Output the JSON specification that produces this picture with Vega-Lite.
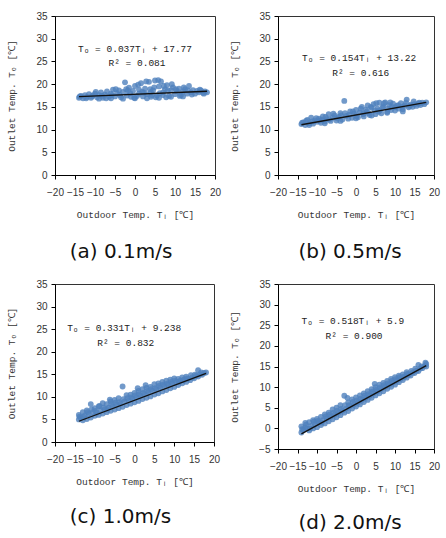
{
  "$schema": "https://vega.github.io/schema/vega-lite/v6.json",
  "padding": {"left": 6, "top": 10, "right": 5, "bottom": 2},
  "background": "white",
  "columns": 2,
  "spacing": {"column": 7, "row": 16},
  "datasets": {
    "pts": [
      {"p":"a","x":-14,"y":17.0},{"p":"a","x":-13.5,"y":17.4},{"p":"a","x":-13,"y":16.9},{"p":"a","x":-12.5,"y":17.6},{"p":"a","x":-12,"y":17.2},{"p":"a","x":-11.5,"y":17.8},{"p":"a","x":-11,"y":17.0},{"p":"a","x":-10.5,"y":17.5},{"p":"a","x":-10,"y":17.9},{"p":"a","x":-9.5,"y":17.1},{"p":"a","x":-9,"y":17.6},{"p":"a","x":-8.5,"y":18.2},{"p":"a","x":-8,"y":17.0},{"p":"a","x":-7.5,"y":17.7},{"p":"a","x":-7,"y":18.4},{"p":"a","x":-6.5,"y":17.2},{"p":"a","x":-6,"y":17.9},{"p":"a","x":-5.5,"y":18.8},{"p":"a","x":-5,"y":17.3},{"p":"a","x":-4.5,"y":18.0},{"p":"a","x":-4,"y":18.6},{"p":"a","x":-3.5,"y":17.1},{"p":"a","x":-3,"y":18.3},{"p":"a","x":-2.5,"y":20.4},{"p":"a","x":-2,"y":17.5},{"p":"a","x":-1.5,"y":19.2},{"p":"a","x":-1,"y":17.2},{"p":"a","x":-0.5,"y":18.5},{"p":"a","x":0,"y":19.6},{"p":"a","x":0.5,"y":17.4},{"p":"a","x":1,"y":18.8},{"p":"a","x":1.5,"y":20.2},{"p":"a","x":2,"y":17.3},{"p":"a","x":2.5,"y":19.0},{"p":"a","x":3,"y":17.8},{"p":"a","x":3.5,"y":20.5},{"p":"a","x":4,"y":17.2},{"p":"a","x":4.5,"y":18.6},{"p":"a","x":5,"y":20.8},{"p":"a","x":5.5,"y":17.5},{"p":"a","x":6,"y":19.5},{"p":"a","x":6.5,"y":20.6},{"p":"a","x":7,"y":17.6},{"p":"a","x":7.5,"y":18.9},{"p":"a","x":8,"y":19.8},{"p":"a","x":8.5,"y":17.4},{"p":"a","x":9,"y":18.7},{"p":"a","x":9.5,"y":19.3},{"p":"a","x":10,"y":17.8},{"p":"a","x":10.5,"y":18.5},{"p":"a","x":11,"y":19.0},{"p":"a","x":11.5,"y":17.6},{"p":"a","x":12,"y":18.4},{"p":"a","x":12.5,"y":18.9},{"p":"a","x":13,"y":17.9},{"p":"a","x":13.5,"y":19.6},{"p":"a","x":14,"y":18.2},{"p":"a","x":14.5,"y":18.7},{"p":"a","x":15,"y":17.9},{"p":"a","x":15.5,"y":18.5},{"p":"a","x":16,"y":18.2},{"p":"a","x":16.5,"y":18.6},{"p":"a","x":17,"y":18.1},{"p":"a","x":17.5,"y":18.4},{"p":"a","x":18,"y":18.2},{"p":"a","x":-3,"y":16.8},{"p":"a","x":0,"y":16.9},{"p":"a","x":3,"y":16.9},{"p":"a","x":6,"y":17.0},{"p":"a","x":9,"y":17.2},{"p":"a","x":12,"y":17.3},{"p":"a","x":1,"y":17.9},{"p":"a","x":4,"y":18.3},{"p":"a","x":7,"y":18.2},{"p":"a","x":-6,"y":16.9},{"p":"a","x":-9,"y":16.8},
      {"p":"a","x":-13.8,"y":17.3},{"p":"a","x":-12.2,"y":16.9},{"p":"a","x":-10.8,"y":17.3},{"p":"a","x":-9.8,"y":18.3},{"p":"a","x":-8.2,"y":17.4},{"p":"a","x":-7.2,"y":16.9},{"p":"a","x":-5.8,"y":17.6},{"p":"a","x":-4.8,"y":18.9},{"p":"a","x":-3.8,"y":17.6},{"p":"a","x":-2.2,"y":18.9},{"p":"a","x":-1.2,"y":18.0},{"p":"a","x":-0.2,"y":17.0},{"p":"a","x":0.8,"y":19.9},{"p":"a","x":1.8,"y":18.3},{"p":"a","x":2.8,"y":20.6},{"p":"a","x":3.8,"y":18.9},{"p":"a","x":4.8,"y":19.3},{"p":"a","x":5.2,"y":17.1},{"p":"a","x":5.8,"y":20.9},{"p":"a","x":6.2,"y":18.0},{"p":"a","x":7.2,"y":19.6},{"p":"a","x":7.8,"y":17.1},{"p":"a","x":8.2,"y":18.6},{"p":"a","x":9.2,"y":20.0},{"p":"a","x":10.2,"y":18.9},{"p":"a","x":11.2,"y":17.4},{"p":"a","x":12.2,"y":19.3},{"p":"a","x":13.2,"y":18.6},{"p":"a","x":14.2,"y":17.7},{"p":"a","x":16.2,"y":18.8},{"p":"a","x":17.2,"y":17.9},{"p":"a","x":2.2,"y":18.1},{"p":"a","x":4.2,"y":17.6},{"p":"a","x":-1.8,"y":18.6},

      {"p":"b","x":-14,"y":11.2},{"p":"b","x":-13.5,"y":11.6},{"p":"b","x":-13,"y":11.0},{"p":"b","x":-12.5,"y":12.1},{"p":"b","x":-12,"y":11.4},{"p":"b","x":-11.5,"y":12.6},{"p":"b","x":-11,"y":11.3},{"p":"b","x":-10.5,"y":12.0},{"p":"b","x":-10,"y":11.7},{"p":"b","x":-9.5,"y":12.4},{"p":"b","x":-9,"y":11.5},{"p":"b","x":-8.5,"y":12.9},{"p":"b","x":-8,"y":11.8},{"p":"b","x":-7.5,"y":12.3},{"p":"b","x":-7,"y":13.4},{"p":"b","x":-6.5,"y":11.9},{"p":"b","x":-6,"y":12.6},{"p":"b","x":-5.5,"y":13.1},{"p":"b","x":-5,"y":12.0},{"p":"b","x":-4.5,"y":12.8},{"p":"b","x":-4,"y":13.6},{"p":"b","x":-3.5,"y":12.2},{"p":"b","x":-3,"y":16.3},{"p":"b","x":-2.5,"y":13.0},{"p":"b","x":-2,"y":12.4},{"p":"b","x":-1.5,"y":14.0},{"p":"b","x":-1,"y":12.6},{"p":"b","x":-0.5,"y":13.5},{"p":"b","x":0,"y":14.3},{"p":"b","x":0.5,"y":12.7},{"p":"b","x":1,"y":13.8},{"p":"b","x":1.5,"y":15.0},{"p":"b","x":2,"y":12.9},{"p":"b","x":2.5,"y":14.4},{"p":"b","x":3,"y":15.3},{"p":"b","x":3.5,"y":13.2},{"p":"b","x":4,"y":14.8},{"p":"b","x":4.5,"y":15.6},{"p":"b","x":5,"y":13.4},{"p":"b","x":5.5,"y":14.6},{"p":"b","x":6,"y":15.9},{"p":"b","x":6.5,"y":13.6},{"p":"b","x":7,"y":15.1},{"p":"b","x":7.5,"y":16.0},{"p":"b","x":8,"y":13.9},{"p":"b","x":8.5,"y":15.4},{"p":"b","x":9,"y":14.3},{"p":"b","x":9.5,"y":15.7},{"p":"b","x":10,"y":14.2},{"p":"b","x":10.5,"y":15.2},{"p":"b","x":11,"y":14.6},{"p":"b","x":11.5,"y":15.8},{"p":"b","x":12,"y":14.5},{"p":"b","x":12.5,"y":15.3},{"p":"b","x":13,"y":16.6},{"p":"b","x":13.5,"y":14.9},{"p":"b","x":14,"y":15.5},{"p":"b","x":14.5,"y":15.0},{"p":"b","x":15,"y":15.6},{"p":"b","x":15.5,"y":15.2},{"p":"b","x":16,"y":15.7},{"p":"b","x":16.5,"y":15.4},{"p":"b","x":17,"y":15.9},{"p":"b","x":17.5,"y":15.6},{"p":"b","x":18,"y":16.0},{"p":"b","x":-12,"y":11.0},{"p":"b","x":-8,"y":11.4},{"p":"b","x":-4,"y":11.9},{"p":"b","x":0,"y":12.5},{"p":"b","x":4,"y":13.1},{"p":"b","x":8,"y":13.7},{"p":"b","x":12,"y":14.0},{"p":"b","x":2,"y":13.6},{"p":"b","x":6,"y":14.2},{"p":"b","x":10,"y":14.9},
      {"p":"b","x":-13.8,"y":11.5},{"p":"b","x":-12.8,"y":11.9},{"p":"b","x":-11.2,"y":11.8},{"p":"b","x":-10.2,"y":12.5},{"p":"b","x":-9.2,"y":12.0},{"p":"b","x":-8.8,"y":12.2},{"p":"b","x":-7.8,"y":12.8},{"p":"b","x":-6.8,"y":12.2},{"p":"b","x":-5.8,"y":13.5},{"p":"b","x":-4.8,"y":12.5},{"p":"b","x":-3.8,"y":13.1},{"p":"b","x":-2.8,"y":13.6},{"p":"b","x":-1.8,"y":13.2},{"p":"b","x":-0.8,"y":14.0},{"p":"b","x":0.2,"y":13.0},{"p":"b","x":1.2,"y":14.6},{"p":"b","x":1.8,"y":13.4},{"p":"b","x":2.8,"y":14.0},{"p":"b","x":3.2,"y":13.6},{"p":"b","x":3.8,"y":15.0},{"p":"b","x":4.8,"y":14.2},{"p":"b","x":5.2,"y":15.8},{"p":"b","x":5.8,"y":13.9},{"p":"b","x":6.8,"y":14.8},{"p":"b","x":7.2,"y":15.8},{"p":"b","x":8.2,"y":14.6},{"p":"b","x":8.8,"y":16.0},{"p":"b","x":9.2,"y":15.0},{"p":"b","x":10.8,"y":15.4},{"p":"b","x":11.8,"y":15.0},{"p":"b","x":12.8,"y":15.9},{"p":"b","x":13.8,"y":15.2},{"p":"b","x":14.8,"y":16.2},{"p":"b","x":16.2,"y":15.9},

      {"p":"c","x":-14,"y":5.0},{"p":"c","x":-14,"y":6.0},{"p":"c","x":-13.5,"y":5.4},{"p":"c","x":-13,"y":4.8},{"p":"c","x":-13,"y":6.6},{"p":"c","x":-12.5,"y":5.9},{"p":"c","x":-12,"y":5.1},{"p":"c","x":-12,"y":7.0},{"p":"c","x":-11.5,"y":6.2},{"p":"c","x":-11,"y":5.4},{"p":"c","x":-11,"y":8.4},{"p":"c","x":-10.5,"y":6.6},{"p":"c","x":-10,"y":5.8},{"p":"c","x":-10,"y":7.5},{"p":"c","x":-9.5,"y":6.5},{"p":"c","x":-9,"y":6.0},{"p":"c","x":-9,"y":7.9},{"p":"c","x":-8.5,"y":7.0},{"p":"c","x":-8,"y":6.3},{"p":"c","x":-8,"y":8.6},{"p":"c","x":-7.5,"y":7.3},{"p":"c","x":-7,"y":6.6},{"p":"c","x":-7,"y":8.4},{"p":"c","x":-6.5,"y":7.6},{"p":"c","x":-6,"y":6.9},{"p":"c","x":-6,"y":9.0},{"p":"c","x":-5.5,"y":7.9},{"p":"c","x":-5,"y":7.2},{"p":"c","x":-5,"y":9.3},{"p":"c","x":-4.5,"y":8.2},{"p":"c","x":-4,"y":7.5},{"p":"c","x":-4,"y":9.7},{"p":"c","x":-3.5,"y":8.5},{"p":"c","x":-3,"y":7.8},{"p":"c","x":-3,"y":12.3},{"p":"c","x":-2.5,"y":9.0},{"p":"c","x":-2,"y":8.2},{"p":"c","x":-2,"y":10.4},{"p":"c","x":-1.5,"y":9.2},{"p":"c","x":-1,"y":8.5},{"p":"c","x":-1,"y":10.5},{"p":"c","x":-0.5,"y":9.6},{"p":"c","x":0,"y":8.8},{"p":"c","x":0,"y":10.9},{"p":"c","x":0.5,"y":9.9},{"p":"c","x":1,"y":9.1},{"p":"c","x":1,"y":11.3},{"p":"c","x":1.5,"y":10.2},{"p":"c","x":2,"y":9.5},{"p":"c","x":2,"y":11.7},{"p":"c","x":2.5,"y":10.6},{"p":"c","x":3,"y":9.8},{"p":"c","x":3,"y":12.0},{"p":"c","x":3.5,"y":11.0},{"p":"c","x":4,"y":10.1},{"p":"c","x":4,"y":12.2},{"p":"c","x":4.5,"y":11.3},{"p":"c","x":5,"y":10.5},{"p":"c","x":5,"y":12.8},{"p":"c","x":5.5,"y":11.7},{"p":"c","x":6,"y":10.8},{"p":"c","x":6,"y":13.0},{"p":"c","x":6.5,"y":12.0},{"p":"c","x":7,"y":11.2},{"p":"c","x":7,"y":13.3},{"p":"c","x":7.5,"y":12.4},{"p":"c","x":8,"y":11.5},{"p":"c","x":8,"y":13.6},{"p":"c","x":8.5,"y":12.7},{"p":"c","x":9,"y":11.9},{"p":"c","x":9,"y":13.8},{"p":"c","x":9.5,"y":13.0},{"p":"c","x":10,"y":12.2},{"p":"c","x":10,"y":14.1},{"p":"c","x":10.5,"y":13.3},{"p":"c","x":11,"y":12.6},{"p":"c","x":11,"y":14.0},{"p":"c","x":11.5,"y":13.6},{"p":"c","x":12,"y":13.0},{"p":"c","x":12,"y":14.3},{"p":"c","x":12.5,"y":13.8},{"p":"c","x":13,"y":13.3},{"p":"c","x":13,"y":14.5},{"p":"c","x":13.5,"y":14.0},{"p":"c","x":14,"y":13.7},{"p":"c","x":14.5,"y":14.3},{"p":"c","x":15,"y":14.1},{"p":"c","x":15.5,"y":14.7},{"p":"c","x":16,"y":14.5},{"p":"c","x":16,"y":15.9},{"p":"c","x":16.5,"y":15.0},{"p":"c","x":17,"y":14.9},{"p":"c","x":17.5,"y":15.3},{"p":"c","x":18,"y":15.4},
      {"p":"c","x":-13.8,"y":5.6},{"p":"c","x":-12.8,"y":5.5},{"p":"c","x":-11.8,"y":6.6},{"p":"c","x":-10.8,"y":7.2},{"p":"c","x":-9.8,"y":6.9},{"p":"c","x":-8.8,"y":8.0},{"p":"c","x":-7.8,"y":7.6},{"p":"c","x":-6.8,"y":7.2},{"p":"c","x":-5.8,"y":8.3},{"p":"c","x":-4.8,"y":8.7},{"p":"c","x":-3.8,"y":8.8},{"p":"c","x":-2.8,"y":9.5},{"p":"c","x":-1.8,"y":9.7},{"p":"c","x":-0.8,"y":9.9},{"p":"c","x":0.2,"y":10.3},{"p":"c","x":1.2,"y":10.6},{"p":"c","x":2.2,"y":10.9},{"p":"c","x":3.2,"y":11.3},{"p":"c","x":4.2,"y":11.7},{"p":"c","x":5.2,"y":11.9},{"p":"c","x":6.2,"y":12.4},{"p":"c","x":7.2,"y":12.7},{"p":"c","x":8.2,"y":12.9},{"p":"c","x":9.2,"y":13.3},{"p":"c","x":10.2,"y":13.6},{"p":"c","x":11.2,"y":13.3},{"p":"c","x":12.2,"y":13.7},{"p":"c","x":13.2,"y":14.1},{"p":"c","x":14.2,"y":14.8},{"p":"c","x":15.2,"y":14.9},{"p":"c","x":16.8,"y":15.4},{"p":"c","x":2.8,"y":12.6},{"p":"c","x":-6.2,"y":9.4},{"p":"c","x":0.8,"y":11.9},

      {"p":"d","x":-14,"y":-1.0},{"p":"d","x":-14,"y":0.5},{"p":"d","x":-13.5,"y":-0.4},{"p":"d","x":-13,"y":0.2},{"p":"d","x":-13,"y":1.3},{"p":"d","x":-12.5,"y":0.0},{"p":"d","x":-12,"y":-0.5},{"p":"d","x":-12,"y":1.5},{"p":"d","x":-11.5,"y":0.6},{"p":"d","x":-11,"y":0.0},{"p":"d","x":-11,"y":2.0},{"p":"d","x":-10.5,"y":1.0},{"p":"d","x":-10,"y":0.3},{"p":"d","x":-10,"y":2.3},{"p":"d","x":-9.5,"y":1.5},{"p":"d","x":-9,"y":0.8},{"p":"d","x":-9,"y":2.8},{"p":"d","x":-8.5,"y":2.0},{"p":"d","x":-8,"y":1.2},{"p":"d","x":-8,"y":3.4},{"p":"d","x":-7.5,"y":2.4},{"p":"d","x":-7,"y":1.7},{"p":"d","x":-7,"y":3.8},{"p":"d","x":-6.5,"y":2.8},{"p":"d","x":-6,"y":2.2},{"p":"d","x":-6,"y":4.6},{"p":"d","x":-5.5,"y":3.3},{"p":"d","x":-5,"y":2.7},{"p":"d","x":-5,"y":5.0},{"p":"d","x":-4.5,"y":3.8},{"p":"d","x":-4,"y":3.2},{"p":"d","x":-4,"y":5.6},{"p":"d","x":-3.5,"y":4.3},{"p":"d","x":-3,"y":3.8},{"p":"d","x":-3,"y":7.9},{"p":"d","x":-2.5,"y":4.8},{"p":"d","x":-2,"y":4.2},{"p":"d","x":-2,"y":6.3},{"p":"d","x":-1.5,"y":5.4},{"p":"d","x":-1,"y":4.8},{"p":"d","x":-1,"y":7.0},{"p":"d","x":-0.5,"y":5.8},{"p":"d","x":0,"y":5.3},{"p":"d","x":0,"y":7.5},{"p":"d","x":0.5,"y":6.3},{"p":"d","x":1,"y":5.8},{"p":"d","x":1,"y":8.0},{"p":"d","x":1.5,"y":6.9},{"p":"d","x":2,"y":6.4},{"p":"d","x":2,"y":8.5},{"p":"d","x":2.5,"y":7.4},{"p":"d","x":3,"y":6.9},{"p":"d","x":3,"y":9.0},{"p":"d","x":3.5,"y":7.9},{"p":"d","x":4,"y":7.4},{"p":"d","x":4,"y":9.5},{"p":"d","x":4.5,"y":8.5},{"p":"d","x":5,"y":8.0},{"p":"d","x":5,"y":10.0},{"p":"d","x":5.5,"y":9.0},{"p":"d","x":6,"y":8.5},{"p":"d","x":6,"y":10.6},{"p":"d","x":6.5,"y":9.6},{"p":"d","x":7,"y":9.0},{"p":"d","x":7,"y":11.0},{"p":"d","x":7.5,"y":10.1},{"p":"d","x":8,"y":9.6},{"p":"d","x":8,"y":11.5},{"p":"d","x":8.5,"y":10.6},{"p":"d","x":9,"y":10.1},{"p":"d","x":9,"y":12.0},{"p":"d","x":9.5,"y":11.1},{"p":"d","x":10,"y":10.6},{"p":"d","x":10,"y":12.4},{"p":"d","x":10.5,"y":11.6},{"p":"d","x":11,"y":11.2},{"p":"d","x":11,"y":12.8},{"p":"d","x":11.5,"y":12.1},{"p":"d","x":12,"y":11.7},{"p":"d","x":12,"y":13.1},{"p":"d","x":12.5,"y":12.6},{"p":"d","x":13,"y":12.3},{"p":"d","x":13,"y":13.6},{"p":"d","x":13.5,"y":13.0},{"p":"d","x":14,"y":12.8},{"p":"d","x":14.5,"y":13.5},{"p":"d","x":15,"y":13.4},{"p":"d","x":15.5,"y":14.0},{"p":"d","x":16,"y":13.9},{"p":"d","x":16,"y":15.4},{"p":"d","x":16.5,"y":14.5},{"p":"d","x":17,"y":14.6},{"p":"d","x":17.5,"y":15.1},{"p":"d","x":18,"y":15.6},{"p":"d","x":18,"y":15.0},
      {"p":"d","x":-13.8,"y":-0.2},{"p":"d","x":-12.8,"y":0.9},{"p":"d","x":-11.8,"y":0.0},{"p":"d","x":-10.8,"y":1.6},{"p":"d","x":-9.8,"y":1.8},{"p":"d","x":-8.8,"y":1.4},{"p":"d","x":-7.8,"y":2.9},{"p":"d","x":-6.8,"y":3.3},{"p":"d","x":-5.8,"y":3.8},{"p":"d","x":-4.8,"y":4.3},{"p":"d","x":-3.8,"y":4.7},{"p":"d","x":-2.8,"y":5.6},{"p":"d","x":-1.8,"y":5.6},{"p":"d","x":-0.8,"y":6.4},{"p":"d","x":0.2,"y":6.8},{"p":"d","x":1.2,"y":7.2},{"p":"d","x":2.2,"y":7.9},{"p":"d","x":3.2,"y":8.3},{"p":"d","x":4.2,"y":8.9},{"p":"d","x":5.2,"y":9.4},{"p":"d","x":6.2,"y":9.9},{"p":"d","x":7.2,"y":10.5},{"p":"d","x":8.2,"y":10.9},{"p":"d","x":9.2,"y":11.5},{"p":"d","x":10.2,"y":11.9},{"p":"d","x":11.2,"y":12.4},{"p":"d","x":12.2,"y":12.5},{"p":"d","x":13.2,"y":13.2},{"p":"d","x":14.2,"y":13.9},{"p":"d","x":15.2,"y":14.5},{"p":"d","x":16.8,"y":15.0},{"p":"d","x":17.8,"y":15.9},{"p":"d","x":-2.2,"y":7.4},{"p":"d","x":4.8,"y":10.8}
    ],
    "fit": [
      {"p":"a","x":-14,"y":17.25},{"p":"a","x":18,"y":18.44},
      {"p":"b","x":-14,"y":11.06},{"p":"b","x":18,"y":15.99},
      {"p":"c","x":-14,"y":4.6},{"p":"c","x":18,"y":15.2},
      {"p":"d","x":-14,"y":-1.35},{"p":"d","x":18,"y":15.22}
    ],
    "eq": [
      {"p":"a","x":0,"y":27.7,"t":"Tₒ = 0.037Tᵢ + 17.77"},{"p":"a","x":0.5,"y":24.7,"t":"R²  = 0.081"},
      {"p":"b","x":0.8,"y":25.8,"t":"Tₒ = 0.154Tᵢ + 13.22"},{"p":"b","x":1.2,"y":22.5,"t":"R²  = 0.616"},
      {"p":"c","x":-2.6,"y":25.3,"t":"Tₒ = 0.331Tᵢ + 9.238"},{"p":"c","x":-2.2,"y":21.9,"t":"R²  = 0.832"},
      {"p":"d","x":-0.8,"y":26.0,"t":"Tₒ = 0.518Tᵢ + 5.9"},{"p":"d","x":-0.5,"y":22.4,"t":"R²  = 0.900"}
    ]
  },
  "concat": [
    {
      "width": 160, "height": 159,
      "title": {"text": "(a) 0.1m/s", "dx": -14},
      "encoding": {
        "x": {"field": "x", "type": "quantitative", "scale": {"domain": [-20, 20], "nice": false}, "axis": {"title": "Outdoor Temp. Tᵢ [℃]", "values": [-20,-15,-10,-5,0,5,10,15,20]}},
        "y": {"field": "y", "type": "quantitative", "scale": {"domain": [0, 35], "nice": false}, "axis": {"title": "Outlet Temp. Tₒ [℃]", "values": [0,5,10,15,20,25,30,35]}}
      },
      "layer": [
        {"data": {"name": "pts"}, "transform": [{"filter": "datum.p == 'a'"}],
         "mark": {"type": "circle", "size": 34, "color": "#4f81bd", "opacity": 0.8}},
        {"data": {"name": "fit"}, "transform": [{"filter": "datum.p == 'a'"}],
         "mark": {"type": "line", "color": "#111", "strokeWidth": 1.3}},
        {"data": {"name": "eq"}, "transform": [{"filter": "datum.p == 'a'"}],
         "mark": {"type": "text", "font": "Liberation Mono", "fontSize": 9.5, "color": "#222"},
         "encoding": {"text": {"field": "t"}}}
      ]
    },
    {
      "width": 156, "height": 159,
      "title": {"text": "(b) 0.5m/s", "dx": -6},
      "encoding": {
        "x": {"field": "x", "type": "quantitative", "scale": {"domain": [-20, 20], "nice": false}, "axis": {"title": "Outdoor Temp. Tᵢ [℃]", "values": [-20,-15,-10,-5,0,5,10,15,20]}},
        "y": {"field": "y", "type": "quantitative", "scale": {"domain": [0, 35], "nice": false}, "axis": {"title": "Outlet Temp. Tₒ [℃]", "values": [0,5,10,15,20,25,30,35]}}
      },
      "layer": [
        {"data": {"name": "pts"}, "transform": [{"filter": "datum.p == 'b'"}],
         "mark": {"type": "circle", "size": 34, "color": "#4f81bd", "opacity": 0.8}},
        {"data": {"name": "fit"}, "transform": [{"filter": "datum.p == 'b'"}],
         "mark": {"type": "line", "color": "#111", "strokeWidth": 1.3}},
        {"data": {"name": "eq"}, "transform": [{"filter": "datum.p == 'b'"}],
         "mark": {"type": "text", "font": "Liberation Mono", "fontSize": 9.5, "color": "#222"},
         "encoding": {"text": {"field": "t"}}}
      ]
    },
    {
      "width": 159, "height": 158,
      "title": {"text": "(c) 1.0m/s", "dx": -14, "offset": 21},
      "encoding": {
        "x": {"field": "x", "type": "quantitative", "scale": {"domain": [-20, 20], "nice": false}, "axis": {"title": "Outdoor Temp. Tᵢ [℃]", "values": [-20,-15,-10,-5,0,5,10,15,20]}},
        "y": {"field": "y", "type": "quantitative", "scale": {"domain": [0, 35], "nice": false}, "axis": {"title": "Outlet Temp. Tₒ [℃]", "values": [0,5,10,15,20,25,30,35]}}
      },
      "layer": [
        {"data": {"name": "pts"}, "transform": [{"filter": "datum.p == 'c'"}],
         "mark": {"type": "circle", "size": 34, "color": "#4f81bd", "opacity": 0.8}},
        {"data": {"name": "fit"}, "transform": [{"filter": "datum.p == 'c'"}],
         "mark": {"type": "line", "color": "#111", "strokeWidth": 1.3}},
        {"data": {"name": "eq"}, "transform": [{"filter": "datum.p == 'c'"}],
         "mark": {"type": "text", "font": "Liberation Mono", "fontSize": 9.5, "color": "#222"},
         "encoding": {"text": {"field": "t"}}}
      ]
    },
    {
      "width": 156, "height": 165,
      "title": {"text": "(d) 2.0m/s", "dx": -6, "offset": 20},
      "encoding": {
        "x": {"field": "x", "type": "quantitative", "scale": {"domain": [-20, 20], "nice": false}, "axis": {"title": "Outdoor Temp. Tᵢ [℃]", "values": [-20,-15,-10,-5,0,5,10,15,20]}},
        "y": {"field": "y", "type": "quantitative", "scale": {"domain": [-5, 35], "nice": false}, "axis": {"title": "Outlet Temp. Tₒ [℃]", "values": [-5,0,5,10,15,20,25,30,35]}}
      },
      "layer": [
        {"data": {"name": "pts"}, "transform": [{"filter": "datum.p == 'd'"}],
         "mark": {"type": "circle", "size": 34, "color": "#4f81bd", "opacity": 0.8}},
        {"data": {"name": "fit"}, "transform": [{"filter": "datum.p == 'd'"}],
         "mark": {"type": "line", "color": "#111", "strokeWidth": 1.3}},
        {"data": {"name": "eq"}, "transform": [{"filter": "datum.p == 'd'"}],
         "mark": {"type": "text", "font": "Liberation Mono", "fontSize": 9.5, "color": "#222"},
         "encoding": {"text": {"field": "t"}}}
      ]
    }
  ],
  "config": {
    "view": {"stroke": "#333", "strokeWidth": 1},
    "axis": {
      "grid": false,
      "domainColor": "#000",
      "tickColor": "#000",
      "tickSize": 4,
      "labelFont": "Liberation Sans",
      "labelFontSize": 10,
      "labelColor": "#333",
      "labelOverlap": false,
      "labelFlush": false,
      "titleFont": "Liberation Mono",
      "titleFontSize": 9.5,
      "titleFontWeight": "normal",
      "titleColor": "#333"
    },
    "axisX": {"labelPadding": 8, "titlePadding": 12},
    "axisY": {"labelPadding": 4, "titlePadding": 19},
    "title": {"orient": "bottom", "font": "DejaVu Sans", "fontSize": 20, "fontWeight": "normal", "color": "#111", "offset": 23}
  }
}
